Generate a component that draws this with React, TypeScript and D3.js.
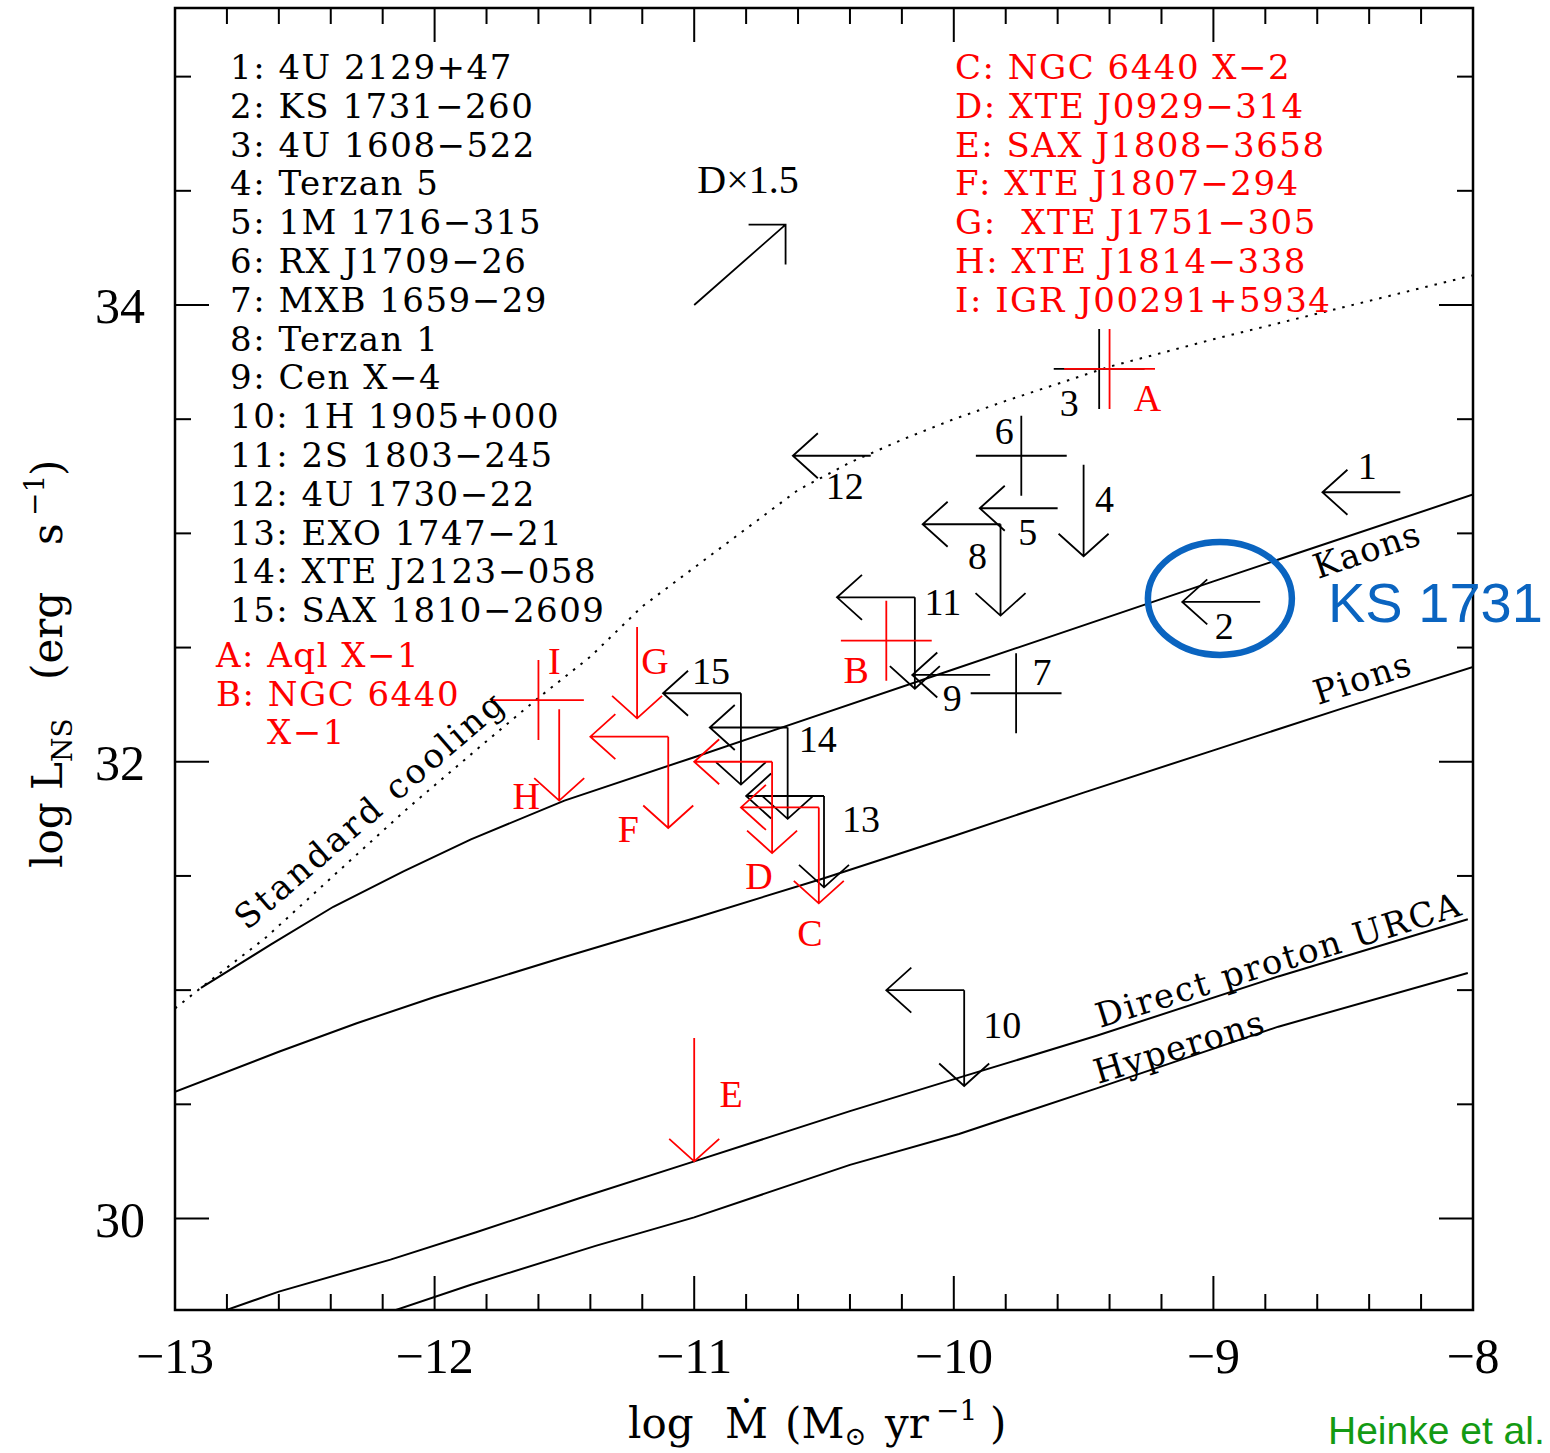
import * as d3 from "d3";

const W = 1550;
const H = 1453;

// cooling curves: log Mdot vs log L_NS
const standardX = [-13, -12.9, -12.65, -12.4, -12.1, -11.8, -11.6, -11.4, -11.2, -11.0, -10.8, -10.6, -10.4, -10.2, -10.0, -9.8, -9.6, -9.4, -9.0, -8.5, -8.0];
const standardY = [30.92, 31.01, 31.23, 31.49, 31.8, 32.09, 32.28, 32.46, 32.68, 32.85, 33.02, 33.19, 33.31, 33.41, 33.5, 33.58, 33.655, 33.73, 33.85, 33.99, 34.13];

const kaonsX = [-12.9, -12.63, -12.39, -12.12, -11.86, -11.5, -11, -10, -9, -8];
const kaonsY = [31.01, 31.2, 31.365, 31.52, 31.66, 31.83, 32.02, 32.405, 32.79, 33.17];

const pionsX = [-13, -12.6, -12.3, -12, -11.5, -11, -10.5, -10, -9.5, -9, -8.5, -8];
const pionsY = [30.555, 30.73, 30.855, 30.97, 31.145, 31.315, 31.49, 31.675, 31.865, 32.05, 32.235, 32.415];

const urcaX = [-12.85, -12.6, -12.17, -11.84, -11.44, -11, -10.4, -9.97, -9.45, -8.75, -8.02];
const urcaY = [29.58, 29.68, 29.82, 29.94, 30.09, 30.25, 30.47, 30.62, 30.8, 31.06, 31.31];

const hyperX = [-12.2, -11.86, -11.38, -11, -10.4, -9.98, -9.45, -8.75, -8.02];
const hyperY = [29.58, 29.71, 29.88, 30.005, 30.235, 30.37, 30.57, 30.84, 31.075];

// sources: corner point, kind of limit, length of the L upper limit (dex)
const srcIds = ["1", "2", "3", "4", "5", "6", "7", "8", "9", "10", "11", "12", "13", "14", "15", "A", "B", "C", "D", "E", "F", "G", "H", "I"];
const srcX = [-8.28, -8.82, -9.44, -9.5, -9.6, -9.74, -9.76, -9.82, -9.86, -9.96, -10.15, -10.32, -10.5, -10.64, -10.82, -9.4, -10.26, -10.52, -10.7, -11.0, -11.1, -11.22, -11.52, -11.6];
const srcY = [33.18, 32.7, 33.72, 33.3, 33.11, 33.34, 32.3, 33.04, 32.38, 31.0, 32.72, 33.34, 31.85, 32.15, 32.3, 33.72, 32.53, 31.8, 32.0, 30.79, 32.11, 32.59, 32.23, 32.27];
const srcKind = ["left", "left", "cross", "down", "left", "cross", "cross", "both", "left", "both", "both", "left", "both", "both", "both", "cross", "cross", "both", "both", "down", "both", "down", "down", "cross"];
const srcDown = [0, 0, 0, 0.4, 0, 0, 0, 0.4, 0, 0.42, 0.4, 0, 0.4, 0.4, 0.4, 0, 0, 0.42, 0.4, 0.54, 0.4, 0.4, 0.4, 0];

const legendBlack = [
  "1: 4U 2129+47", "2: KS 1731\u2212260", "3: 4U 1608\u2212522", "4: Terzan 5",
  "5: 1M 1716\u2212315", "6: RX J1709\u221226", "7: MXB 1659\u221229", "8: Terzan 1",
  "9: Cen X\u22124", "10: 1H 1905+000", "11: 2S 1803\u2212245", "12: 4U 1730\u221222",
  "13: EXO 1747\u221221", "14: XTE J2123\u2212058", "15: SAX 1810\u22122609",
];
const legendRedTop = [
  "C: NGC 6440 X\u22122", "D: XTE J0929\u2212314", "E: SAX J1808\u22123658", "F: XTE J1807\u2212294",
  "G:  XTE J1751\u2212305", "H: XTE J1814\u2212338", "I: IGR J00291+5934",
];
const legendRedLeft = ["A: Aql X\u22121", "B: NGC 6440", "X\u22121"];

const xTicks = [-13, -12, -11, -10, -9, -8];
const yTicks = [30, 32, 34];

// label placement around each mark (px from the mark, text centre)
const labelOffsets: Record<string, [number, number]> = {
  "1": [-33, -26], "2": [-36, 24], "3": [-30, 34], "4": [21, 34], "5": [-30, 24],
  "6": [-17, -25], "7": [26, -21], "8": [-23, 32], "9": [-38, 23], "10": [38, 35],
  "11": [28, 5], "12": [-26, 30], "13": [37, 23], "14": [30, 12], "15": [-30, -22],
  A: [38, 29], B: [-30, 29], C: [-9, 126], D: [-13, 114], E: [37, 56],
  F: [-40, 92], G: [18, 34], H: [-33, 87], I: [16, -39],
};

const serif = "'DejaVu Serif', serif";
const lserif = "'Liberation Serif', serif";
const sans = "'Liberation Sans', Arial, sans-serif";

export default function App() {
  const x = d3.scaleLinear().domain([-13, -8]).range([175, 1473]);
  const y = d3.scaleLinear().domain([30, 34]).range([1218.5, 305]);
  const x0 = 175, x1 = 1473, y0 = 8, y1 = 1310;

  const curve = (xs: number[], ys: number[]) =>
    d3.line<number>().x((d, i) => x(xs[i])).y((d, i) => y(ys[i]))(xs) ?? "";

  const markPath = (i: number) => {
    const px = x(srcX[i]), py = y(srcY[i]);
    const k = srcKind[i];
    let p = "";
    if (k === "left" || k === "both") {
      const tx = x(srcX[i] - 0.3);
      p += `M${px},${py}L${tx},${py}M${tx + 25},${py - 22.5}L${tx},${py}L${tx + 25},${py + 22.5}`;
    }
    if (k === "down" || k === "both") {
      const ty = y(srcY[i] - srcDown[i]);
      p += `M${px},${py}L${px},${ty}M${px - 25},${ty - 22.5}L${px},${ty}L${px + 25},${ty - 22.5}`;
    }
    if (k === "cross") {
      p += `M${x(srcX[i] - 0.175)},${py}L${x(srcX[i] + 0.175)},${py}M${px},${y(srcY[i] + 0.175)}L${px},${y(srcY[i] - 0.175)}`;
    }
    return p;
  };
  const isRed = (id: string) => isNaN(+id);
  const order = d3.range(srcIds.length).sort((a, b) => +isRed(srcIds[a]) - +isRed(srcIds[b]));

  const xMinor = d3.range(-13, -7.99, 0.2);
  const yMinor = d3.range(30, 35.01, 0.5);

  // distance x1.5 arrow
  const dStart = [-11.0, 34.0];
  const dShift = 0.352;
  const dx0 = x(dStart[0]), dy0 = y(dStart[1]);
  const dx1 = x(dStart[0] + dShift), dy1 = y(dStart[1] + dShift);

  return (
    <svg width={W} height={H} style={{ position: "absolute", left: 0, top: 0, background: "#fff" }}>
      <defs>
        <clipPath id="plotClip">
          <rect x={x0} y={y0} width={x1 - x0} height={y1 - y0} />
        </clipPath>
      </defs>
      <rect width={W} height={H} fill="#fff" />

      {/* curves */}
      <g clipPath="url(#plotClip)" fill="none" stroke="#000">
        <path d={curve(standardX, standardY)} strokeWidth={2} strokeDasharray="2.5 7" />
        <path d={curve(kaonsX, kaonsY)} strokeWidth={2} />
        <path d={curve(pionsX, pionsY)} strokeWidth={2} />
        <path d={curve(urcaX, urcaY)} strokeWidth={2} />
        <path d={curve(hyperX, hyperY)} strokeWidth={2} />
      </g>

      {/* curve labels */}
      <g fontFamily={serif} fontSize={34} fill="#000">
        <text transform="translate(247,931) rotate(-40.7)" textLength={342} lengthAdjust="spacing">Standard cooling</text>
        <text transform="translate(1318,579) rotate(-18.6)" textLength={110} lengthAdjust="spacing">Kaons</text>
        <text transform="translate(1318,705) rotate(-18)" textLength={100} lengthAdjust="spacing">Pions</text>
        <text transform="translate(1100,1028) rotate(-17.3)" textLength={380} lengthAdjust="spacing">Direct proton URCA</text>
        <text transform="translate(1098,1084) rotate(-17)" textLength={176} lengthAdjust="spacing">Hyperons</text>
      </g>

      {/* sources */}
      <g fill="none" strokeWidth={1.8}>
        {order.map((i) => (
          <path key={srcIds[i]} d={markPath(i)} stroke={isRed(srcIds[i]) ? "#ff0000" : "#000"} />
        ))}
      </g>
      <g fontFamily={lserif} fontSize={38} textAnchor="middle">
        {srcIds.map((id, i) => (
          <text key={id} x={x(srcX[i]) + labelOffsets[id][0]} y={y(srcY[i]) + labelOffsets[id][1] + 13}
            fill={isRed(id) ? "#ff0000" : "#000"}>{id}</text>
        ))}
      </g>

      {/* D x 1.5 arrow */}
      <path d={`M${dx0},${dy0}L${dx1},${dy1}M${dx1 - 37},${dy1}L${dx1},${dy1}L${dx1},${dy1 + 40}`} fill="none" stroke="#000" strokeWidth={1.8} />
      <text x={748} y={193} fontFamily={lserif} fontSize={40} textAnchor="middle">D{"\u00d7"}1.5</text>

      {/* legends */}
      <g fontFamily={serif} fontSize={34} letterSpacing={1.5} style={{ whiteSpace: "pre" }}>
        {legendBlack.map((t, i) => (
          <text key={t} x={230} y={79 + i * 38.8} fill="#000" xmlSpace="preserve">{t}</text>
        ))}
        {legendRedTop.map((t, i) => (
          <text key={t} x={955} y={79 + i * 38.8} fill="#ff0000" xmlSpace="preserve">{t}</text>
        ))}
        <text x={216} y={667} fill="#ff0000">{legendRedLeft[0]}</text>
        <text x={216} y={705.5} fill="#ff0000">{legendRedLeft[1]}</text>
        <text x={267} y={744} fill="#ff0000">{legendRedLeft[2]}</text>
      </g>

      {/* frame and ticks */}
      <g stroke="#000" strokeWidth={2}>
        {xMinor.map((v) => {
          const major = Math.abs(v - Math.round(v)) < 1e-6;
          const len = major ? 34 : 16;
          return (
            <g key={"x" + v.toFixed(1)}>
              <line x1={x(v)} x2={x(v)} y1={y1} y2={y1 - len} />
              <line x1={x(v)} x2={x(v)} y1={y0} y2={y0 + len} />
            </g>
          );
        })}
        {yMinor.map((v) => {
          const major = yTicks.includes(v);
          const len = major ? 34 : 16;
          return (
            <g key={"y" + v}>
              <line x1={x0} x2={x0 + len} y1={y(v)} y2={y(v)} />
              <line x1={x1} x2={x1 - len} y1={y(v)} y2={y(v)} />
            </g>
          );
        })}
        <rect x={x0} y={y0} width={x1 - x0} height={y1 - y0} fill="none" strokeWidth={2.5} />
      </g>

      {/* tick labels */}
      <g fontFamily={lserif} fontSize={50} fill="#000">
        {xTicks.map((v) => (
          <text key={v} x={x(v)} y={1373} textAnchor="middle">{"\u2212" + Math.abs(v)}</text>
        ))}
        {yTicks.map((v) => (
          <text key={v} x={145} y={y(v) + 18} textAnchor="end">{v}</text>
        ))}
      </g>

      {/* axis titles */}
      <text y={1438} fontFamily={serif} fontSize={42} fill="#000">
        <tspan x={628}>log</tspan>
        <tspan x={725}>{"\u1e40"}</tspan>
        <tspan x={785}>(M</tspan>
        <tspan dy={7} fontSize={26}>{"\u2299"}</tspan>
        <tspan x={885} dy={-7}>yr</tspan>
        <tspan x={936} dy={-18} fontSize={28}>{"\u22121"}</tspan>
        <tspan x={990} dy={18}>)</tspan>
      </text>
      <text transform="translate(62,0) rotate(-90)" fontFamily={serif} fontSize={42} fill="#000">
        <tspan x={-868}>log</tspan>
        <tspan x={-790}>L</tspan>
        <tspan dy={10} fontSize={28}>NS</tspan>
        <tspan x={-680} dy={-10}>(erg</tspan>
        <tspan x={-545}>s</tspan>
        <tspan x={-516} dy={-18} fontSize={28}>{"\u22121"}</tspan>
        <tspan x={-476} dy={18}>)</tspan>
      </text>

      {/* annotations */}
      <ellipse cx={x(-8.975)} cy={y(32.715)} rx={72} ry={56.5} fill="none" stroke="#0a64c0" strokeWidth={6.5} />
      <text x={1328} y={622} fontFamily={sans} fontSize={56} fill="#0a64c0">KS 1731</text>
      <text x={1328} y={1444} fontFamily={sans} fontSize={39} fill="#139a13">Heinke et al.</text>
    </svg>
  );
}
